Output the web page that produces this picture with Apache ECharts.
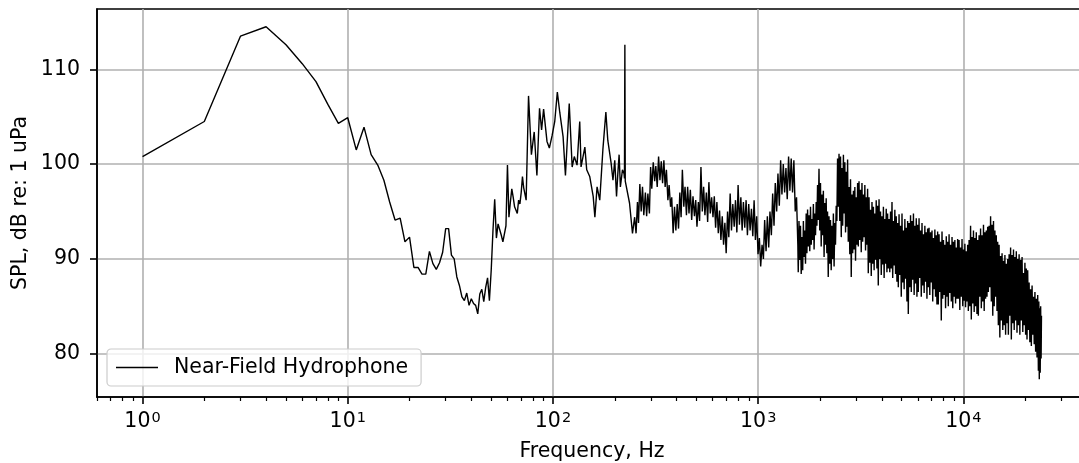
<!DOCTYPE html>
<html><head><meta charset="utf-8">
<script src="https://cdn.jsdelivr.net/npm/echarts@6/dist/echarts.min.js"></script>
<style>html,body{margin:0;padding:0;background:#fff}#c{width:1079px;height:463px}</style>
</head><body><div id="c"></div>
<script>
// ---- data (frequency in Hz, SPL in dB re 1 uPa) ----
const freqA = [1,2,3,4,5,6,7,8,9,10,11,12,13,14,15,16,17,18,19,20,21,22,23,24,25,26,27,28,29,30,31,32,33,34,35,36,37,38,39,40,41,42,43,44,45,46,47,48,49,50,51,52,53,54,55,56,57,58,59,60,61,62,63,64,65,66,67,68,69,70,71,72];
const splA = [100.8,104.5,113.5,114.5,112.6,110.6,108.7,106.3,104.3,104.9,101.5,103.9,101.0,99.9,98.3,96.0,94.1,94.3,91.8,92.3,89.1,89.1,88.4,88.4,90.8,89.5,88.9,89.6,90.7,93.2,93.2,90.4,90.0,88.1,87.2,86.0,85.6,86.4,85.1,85.8,85.3,85.1,84.2,86.3,86.8,85.5,87.0,88.0,85.6,88.8,93.0,96.3,92.2,93.7,93.7,92.5,91.8,91.8,93.5,99.9,94.4,96.0,97.4,96.5,95.5,95.5,94.8,96.2,95.8,97.0,98.7,97.5];

const freqB = [74,76,78.5,81,83.5,86,88,90,93.5,96,99,102,105,108,112,115,120,124,127,131,135,137,143,146,151,157,160,164,169,175,181,185,192,196,200,204,207,210,213,218,222,223,224,225,228,236,244];
const splB = [96.2,107.2,101.0,103.4,98.8,105.9,103.6,105.8,102.4,101.7,103.0,104.5,107.6,105.4,102.9,98.8,106.4,99.7,100.8,99.9,104.5,99.7,101.8,99.4,98.7,96.6,94.4,97.6,96.2,101.5,105.5,102.5,100.1,98.3,100.4,96.6,99.0,101.0,97.6,99.4,99.0,98.5,112.6,98.2,98.0,95.9,92.7];

const freqC = [250,254,258,261,265,269,273,277,282,286, 290,295,299,303,308,313,317,322,327,332, 337,342,347,352,357,363,368,374,379,385, 391,397,403,409,415,421,427,434,440,447, 453,460,467,474,481,489,496,503,511,518, 526,534,542,550,559,567,575,584,593,602, 611,620,629,639,648,658,668,678,688,698, 709,719,730,741,752,764,775,787,798,810, 823,835,847,860,873,886,899,913,927,941, 955,969,983,998,1013,1028,1044,1060,1075,1092, 1108,1125,1141,1159,1176,1194,1211,1230,1248,1267, 1286,1305,1325,1345,1365,1385,1406,1427,1448,1470, 1492,1515,1537,1560];
const splC = [94.4,92.7,96.0,93.8,97.9,95.0,97.6,94.6,97.0,94.5, 96.9,94.8,99.7,97.4,100.2,98.2,99.8,97.6,100.8,98.3, 100.3,98.0,100.4,97.6,99.4,96.2,97.8,95.5,96.5,92.7, 95.5,93.0,95.8,93.2,97.0,94.4,99.4,95.5,97.6,94.6, 97.6,94.8,97.3,94.1,96.6,94.5,96.2,93.4,96.0,94.0, 99.7,95.0,97.6,94.6,97.0,93.9,98.1,94.8,96.5,94.4, 96.6,93.3,96.0,92.7,95.1,92.0,94.5,91.5,93.8,90.6, 95.0,92.3,96.9,93.0,95.8,93.4,96.2,92.8,97.8,93.6, 96.5,93.0,96.0,93.3,96.2,92.5,95.8,93.0,95.3,92.4, 96.2,92.0,94.5,90.5,92.2,89.2,91.5,90.0,94.1,90.8, 94.5,91.2,95.0,92.5,96.9,93.5,98.0,95.0,99.0,95.6, 100.4,96.8,100.0,97.0,99.6,96.3,100.8,97.2,100.6,97.0, 100.4,95.0,96.5,91.5];

const freqD = [
 1567,1580,1594,1607,1620,1634,1647,1660,1673,1687,1700,1713,1727,1740,
 1753,1768,1783,1798,1813,1827,1842,1857,1872,1887,1902,1917,1932,1946,
 1961,1978,1994,2011,2027,2044,2061,2077,2094,2111,2127,2144,2160,2177,
 2194,2213,2231,2250,2268,2287,2306,2324,2343,2362,2380,2399,2417,2436,
 2455,2476,2497,2518,2539,2560,2580,2601,2622,2643,2664,2685,2706,2726,
 2747,2770,2794,2817,2840,2864,2887,2910,2933,2957,2980,3003,3027,3050,
 3073,3099,3125,3151,3177,3203,3229,3256,3282,3308,3334,3360,3386,3412,
 3438,3467,3496,3525,3555,3584,3613,3642,3671,3700,3729,3758,3788,3817,
 3846,3879,3911,3944,3977,4009,4042,4074,4107,4140,4172,4205,4238,4270,
 4303,4340,4376,4413,4449,4486,4522,4559,4596,4632,4669,4705,4742,4778,
 4815,4856,4897,4938,4978,5019,5060,5101,5142,5183,5224,5264,5305,5346,
 5387,5433,5478,5524,5570,5615,5661,5707,5752,5798,5843,5889,5935,5980,
 6026,6077,6128,6179,6231,6282,6333,6384,6435,6486,6537,6589,6640,6691,
 6742,6799,6856,6914,6971,7028,7085,7142,7200,7257,7314,7371,7428,7486,
 7543,7607,7671,7735,7799,7863,7927,7992,8056,8120,8184,8248,8312,8376,
 8440,8512,8583,8655,8726,8798,8870,8941,9013,9084,9156,9228,9299,9371,
 9442,9522,9602,9682,9763,9843,9923,10003,10083,10163,10243,10324,10404,10484,
 10564,10654,10743,10833,10923,11012,11102,11192,11281,11371,11460,11550,11640,11729,
 11819,11919,12020,12120,12221,12321,12421,12522,12622,12723,12823,12923,13024,13124,
 13224,13336,13448,13561,13673,13785,13897,14009,14122,14234,14346,14458,14571,14683,
 14795,14921,15046,15172,15297,15423,15549,15674,15800,15925,16051,16177,16302,16428,
 16553,16693,16834,16974,17115,17255,17395,17536,17676,17817,17957,18098,18238,18378,
 18519,18676,18833,18990,19147,19305,19462,19619,19776,19933,20090,20248,20405,20562,
 20719,20895,21071,21247,21423,21599,21774,21950,22126,22302,22478,22654,22830,23006,
 23181,23300,23420,23540,23660,23780,23900,24000];
const splD = [
 88.6,94.0,89.9,93.5,88.4,92.3,88.8,94.0,90.2,93.0,89.5,94.8,90.6,95.2,
 91.3,94.6,90.8,95.5,91.5,94.2,92.0,95.8,91.0,94.8,92.5,96.0,93.5,97.8,
 94.1,99.5,93.0,98.0,91.3,96.8,92.5,97.2,90.2,95.9,91.5,96.4,90.6,95.0,
 88.1,94.5,89.5,94.1,88.8,93.5,90.0,94.8,89.2,93.8,91.5,95.6,94.0,100.6,
 95.5,101.1,94.0,100.8,92.3,99.6,93.5,101.0,94.8,100.2,92.8,99.2,93.4,100.5,
 91.8,97.6,90.5,98.4,88.1,96.8,90.6,97.2,91.0,97.6,89.8,96.5,91.5,98.0,
 91.3,98.2,92.0,97.3,90.7,98.0,91.8,96.8,92.3,97.8,90.9,96.5,91.5,97.4,
 88.5,96.5,89.6,95.2,88.2,96.0,89.5,95.5,88.8,94.8,89.9,96.2,89.0,95.6,
 87.2,96.3,90.0,95.0,88.3,94.5,89.4,95.5,88.0,94.2,89.5,95.3,88.6,94.8,
 89.0,94.2,88.6,95.0,89.0,96.0,88.0,94.0,89.3,95.2,88.4,94.5,87.6,93.8,
 87.0,94.7,88.3,93.5,86.0,94.8,87.5,93.0,86.8,94.2,87.9,93.3,85.5,94.0,
 84.2,93.8,87.0,94.6,86.5,94.0,87.8,94.8,86.2,93.5,87.4,94.3,86.0,93.6,
 86.5,94.3,88.0,93.0,86.0,93.8,87.2,92.6,86.4,93.5,87.6,92.8,85.8,93.2,
 87.0,93.3,86.2,92.8,87.5,93.0,85.5,92.2,86.8,93.1,86.0,92.5,85.2,92.9,
 85.2,92.6,86.5,91.8,83.5,92.9,85.8,92.0,86.2,91.5,84.8,92.4,86.0,91.8,
 85.0,92.6,86.4,91.5,85.5,92.3,84.8,91.8,86.0,92.0,85.3,91.2,85.8,92.1,
 85.8,92.0,84.6,91.2,86.0,92.1,85.0,91.0,85.6,91.6,84.9,90.8,85.5,91.5,
 84.5,92.0,85.0,93.5,83.6,92.3,85.3,93.0,84.4,92.2,85.0,92.8,84.2,92.0,
 84.0,92.5,86.0,93.2,84.8,92.5,85.5,93.6,84.5,92.8,85.8,93.0,86.0,93.4,
 86.5,93.5,87.0,94.5,85.5,93.6,84.0,94.0,85.0,93.0,86.0,92.5,84.5,91.8,
 83.0,91.5,81.7,90.3,83.5,90.6,82.5,89.8,83.0,90.4,82.0,89.5,83.2,90.0,
 82.0,90.5,84.0,91.2,81.5,90.4,83.2,91.0,82.5,90.2,83.5,90.8,82.2,90.0,
 83.0,90.5,82.0,89.9,83.5,90.2,82.3,88.5,83.0,89.6,82.0,89.0,81.5,88.8,
 82.5,87.5,81.2,86.8,80.8,87.2,82.0,86.0,81.0,86.5,80.2,85.8,79.6,86.2,
 78.2,85.5,77.3,84.8,78.0,85.0,79.5,84.0];

const xMajorTicks = [1, 10, 100, 1000, 10000];
const xMinorTicks = [0.6,0.7,0.8,0.9, 2,3,4,5,6,7,8,9, 20,30,40,50,60,70,80,90, 200,300,400,500,600,700,800,900, 2000,3000,4000,5000,6000,7000,8000,9000, 20000,30000];
const yTicks = [80, 90, 100, 110];
const seriesName = 'Near-Field Hydrophone';

// ---- build ----
function zip(fs, vs) {
  const n = Math.min(fs.length, vs.length);
  const out = [];
  for (let i = 0; i < n; i++) out.push([fs[i], vs[i]]);
  return out;
}
const lineData = [].concat(zip(freqA, splA), zip(freqB, splB), zip(freqC, splC), zip(freqD, splD));

const FONT = 'DejaVu Sans';
const FS = 20.5;
const BLACK = '#000000';
const chart = echarts.init(document.getElementById('c'), null, {renderer: 'canvas'});
chart.setOption({
  animation: false,
  backgroundColor: '#ffffff',
  grid: {left: 97, top: 9, width: 990, height: 388, show: true, borderColor: BLACK, borderWidth: 1.6,
         backgroundColor: 'transparent', containLabel: false, outerBoundsMode: 'none'},
  legend: {
    left: 107, top: 349, padding: [8, 13, 8, 9], itemWidth: 42, itemHeight: 1.6, itemGap: 0,
    icon: 'rect',
    backgroundColor: 'rgba(255,255,255,0.8)', borderColor: '#cccccc', borderWidth: 1.2, borderRadius: 4,
    textStyle: {fontFamily: FONT, fontSize: FS, color: BLACK, padding: [0, 0, 0, 11]},
    data: [{name: seriesName, icon: 'rect'}]
  },
  xAxis: [{
    type: 'log', logBase: 10, min: 0.6, max: 40000, position: 'bottom',
    name: 'Frequency, Hz', nameLocation: 'middle', nameGap: 44, nameMoveOverlap: false,
    nameTextStyle: {fontFamily: FONT, fontSize: FS, color: BLACK},
    axisLine: {show: true, onZero: false, lineStyle: {color: BLACK, width: 1.6}},
    axisTick: {show: true, inside: false, length: 7, lineStyle: {color: BLACK, width: 1.6}, customValues: xMajorTicks},
    axisLabel: {
      customValues: xMajorTicks, margin: 14, color: BLACK, fontFamily: FONT, fontSize: FS,
      formatter: v => '{b|10}{s|' + Math.round(Math.log10(v)) + '}',
      rich: {
        b: {fontFamily: FONT, fontSize: FS, color: BLACK, lineHeight: 22},
        s: {fontFamily: FONT, fontSize: 14.5, color: BLACK, verticalAlign: 'top', lineHeight: 14, padding: [0, 0, 4, 1]}
      }
    },
    splitLine: {show: true, lineStyle: {color: '#b0b0b0', width: 1.6}}
  }, {
    type: 'log', logBase: 10, min: 0.6, max: 40000, position: 'bottom', gridIndex: 0,
    axisLine: {show: false}, axisLabel: {show: false}, splitLine: {show: false},
    axisTick: {show: true, inside: false, length: 4, lineStyle: {color: BLACK, width: 1.2}, customValues: xMinorTicks}
  }],
  yAxis: {
    type: 'value', min: 75.43, max: 116.37,
    name: 'SPL, dB re: 1 uPa', nameLocation: 'middle', nameGap: 66, nameRotate: 90, nameMoveOverlap: false,
    nameTextStyle: {fontFamily: FONT, fontSize: FS, color: BLACK},
    axisLine: {show: true, onZero: false, lineStyle: {color: BLACK, width: 1.6}},
    axisTick: {show: true, inside: false, length: 7, lineStyle: {color: BLACK, width: 1.6}, customValues: yTicks},
    axisLabel: {customValues: yTicks, margin: 17, color: BLACK, fontFamily: FONT, fontSize: FS},
    splitLine: {show: true, lineStyle: {color: '#b0b0b0', width: 1.6}}
  },
  series: [{
    name: seriesName, type: 'line', xAxisIndex: 0, yAxisIndex: 0, data: lineData,
    symbol: 'none', showSymbol: false, clip: true, z: 3,
    lineStyle: {color: BLACK, width: 1.4}, itemStyle: {color: BLACK}
  }]
});
</script>
</body></html>
